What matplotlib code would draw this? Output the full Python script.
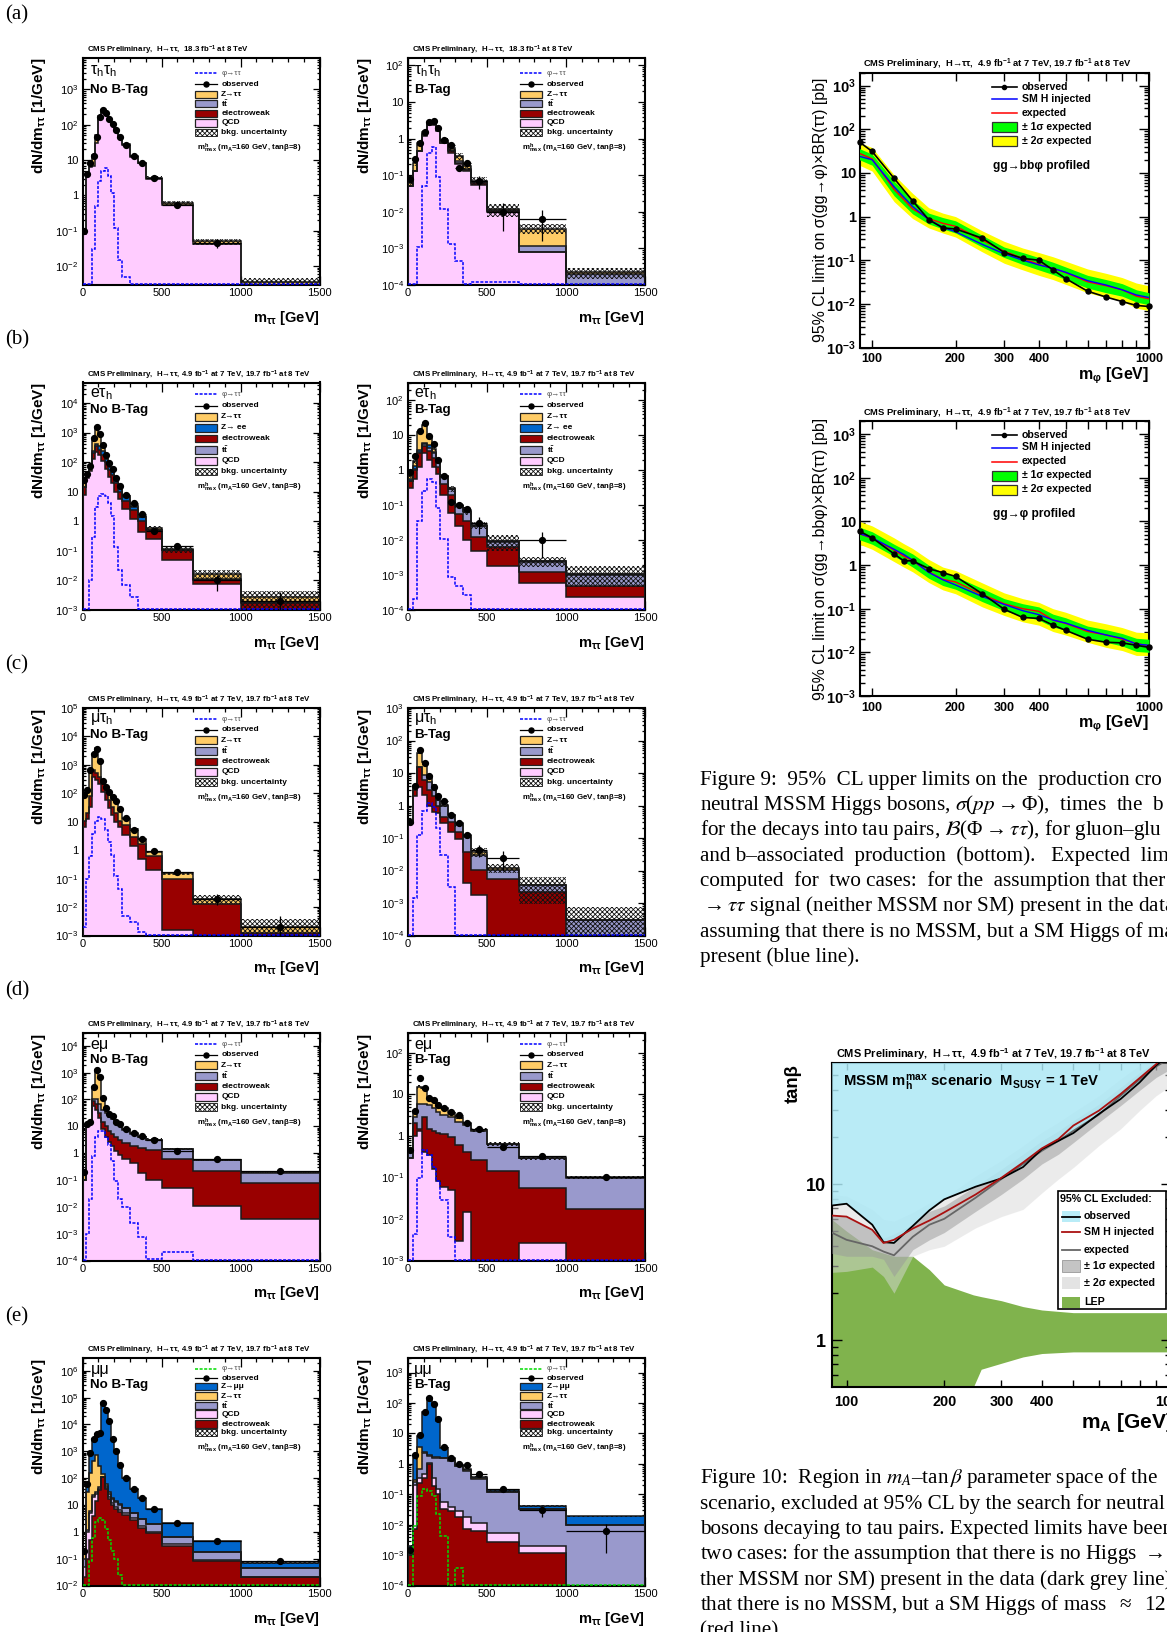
import numpy as np
import matplotlib
matplotlib.use("Agg")
import matplotlib.pyplot as plt
from matplotlib.lines import Line2D
from matplotlib.patches import Rectangle
from matplotlib.ticker import LogLocator, NullFormatter, FixedLocator

plt.rcParams["font.family"] = ["Liberation Sans", "DejaVu Sans"]
plt.rcParams["mathtext.fontset"] = "custom"
plt.rcParams["mathtext.rm"] = "Liberation Sans"
plt.rcParams["mathtext.it"] = "Liberation Sans:italic"
plt.rcParams["mathtext.bf"] = "Liberation Sans:bold"
plt.rcParams["mathtext.default"] = "regular"
plt.rcParams["hatch.linewidth"] = 0.6

W, H = 1167, 1632

# ======================
# Bin edges
# ======================
EDGES_NB = [0, 20, 40, 60, 80, 100, 120, 140, 160, 180, 200, 225, 250, 300, 350, 400, 500, 700, 1000, 1500]
EDGES_BT = [0, 30, 60, 90, 120, 150, 180, 200, 250, 300, 350, 400, 500, 700, 1000, 1500]

# ======================
# Stack tops (cumulative)
# ======================
# (a) tau_h tau_h
A1_QCD = [0.08, 4, 6.5, 7, 30, 150, 240, 205, 150, 105, 70, 44, 26, 12, 8, 3, 0.55, 0.042, 0.0001]
A1_Z = [0.1, 4, 8, 14, 50, 175, 260, 220, 160, 110, 75, 46, 28, 13, 8.5, 3.2, 0.62, 0.05, 0.0036]
A1_SIG = [0, 0, 0, 0.03, 0.5, 2.5, 5, 5.8, 3.5, 1.2, 0.12, 0.015, 0.005, 0, 0, 0, 0, 0, 0]
A1_OBS = [0.1, 4, 8, 13, 45, 170, 255, 220, 150, 105, 70, 45, 27, 13, 8.5, 3.2, 0.55, 0.045, np.nan]
A1_UNC = [.1, .1, .1, .1, .1, .1, .05, .05, .05, .05, .05, .05, .05, .05, .1, .1, .15, .2, .3]
A1_ERR = [.1, .1, .3, 0]

A2_QCD = [0.05, 0.13, 0.45, 1.2, 2.4, 2.3, 1.6, 0.75, 0.4, 0.2, 0.13, 0.055, 0.01, 8e-4, 1e-5]
A2_EW = [0.05, 0.13, 0.46, 1.25, 2.5, 2.5, 1.7, 0.78, 0.45, 0.22, 0.14, 0.06, 0.0105, 8.2e-4, 1e-5]
A2_TT = [0.05, 0.13, 0.47, 1.3, 2.6, 2.6, 1.8, 0.82, 0.48, 0.25, 0.15, 0.065, 0.011, 0.0012, 2e-4]
A2_Z = [0.06, 0.22, 0.75, 1.5, 2.7, 2.9, 1.9, 0.9, 0.55, 0.33, 0.18, 0.07, 0.012, 0.0035, 2.2e-4]
A2_SIG = [0, 0, 0.0011, 0.05, 0.4, 0.6, 0.09, 0.012, 0.0013, 4.5e-4, 1e-4, 1.2e-4, 1.2e-4, 1e-4, 1e-4]
A2_OBS = [0.08, 0.28, 0.75, 1.5, 2.8, 3, 2.0, 0.9, 0.65, 0.16, 0.22, 0.07, 0.01, 0.0065, np.nan]
A2_UNC = [.2, .2, .15, .15, .15, .15, .15, .15, .2, .2, .25, .25, .4, .3, .35]
A2_ERR = [.4, .7, .75, 0]

# (b) e tau_h
B1_QCD = [8, 30, 50, 130, 220, 180, 110, 60, 32, 20, 10, 5.5, 2.5, 1.2, 0.45, 0.25, 0.05, 0.0074, 1e-4]
B1_EW = [14, 35, 65, 200, 350, 260, 170, 100, 55, 38, 20, 10, 4.8, 2.4, 1.0, 0.5, 0.105, 0.0103, 0.0017]
B1_ZEE = [14, 35, 68, 240, 420, 360, 230, 130, 70, 45, 24, 13, 6.4, 3, 1.4, 0.52, 0.108, 0.0115, 0.0018]
B1_Z = [24, 38, 75, 550, 1550, 1000, 350, 160, 85, 52, 26, 15, 7, 3.6, 1.5, 0.58, 0.115, 0.016, 0.0028]
B1_SIG = [0, 0, 0.01, 0.3, 3, 7, 8.5, 7, 4, 1.5, 0.14, 0.023, 0.007, 0.0027, 0, 0, 0, 0, 0]
B1_OBS = [24, 40, 75, 650, 1550, 900, 370, 170, 90, 58, 28, 15, 7.5, 4, 1.7, 0.46, 0.15, 0.01, 0.002]
B1_UNC = [.1, .1, .1, .1, .1, .1, .1, .1, .1, .1, .12, .12, .15, .15, .15, .2, .28, .38, .6]
B1_ERR = [.2, .1, .55, 1.1]

B2_QCD = [0.3, 0.55, 1.2, 3, 1.9, 1.2, 0.75, 0.2, 0.06, 0.025, 0.01, 0.005, 0.0018, 6e-4, 2.4e-4]
B2_EW = [0.5, 1.0, 3, 5, 3.5, 2.2, 1.2, 0.4, 0.2, 0.056, 0.034, 0.0125, 0.0065, 0.00125, 5e-4]
B2_TT = [0.5, 1.1, 3.2, 5.5, 4.3, 3, 1.6, 0.65, 0.28, 0.095, 0.065, 0.025, 0.009, 0.0024, 0.001]
B2_ZEE = [0.55, 1.3, 3.8, 6, 5.3, 3.4, 1.7, 0.66, 0.29, 0.097, 0.066, 0.0255, 0.0092, 0.00245, 0.00105]
B2_Z = [0.7, 1.8, 12, 20, 9, 4, 1.9, 0.68, 0.3, 0.1, 0.07, 0.027, 0.0095, 0.0025, 0.0011]
B2_SIG = [0, 2e-4, 0.036, 0.25, 0.55, 0.45, 0.08, 0.0105, 0.0009, 5e-4, 2.7e-4, 1.1e-4, 1.1e-4, 1e-4, 1e-4]
B2_OBS = [0.9, 2.5, 13, 22, 9.5, 5.5, 2, 0.7, 0.12, 0.1, 0.075, 0.03, np.nan, 0.01, np.nan]
B2_UNC = [.15, .15, .1, .1, .1, .1, .15, .15, .2, .2, .25, .25, .5, .3, .6]
B2_ERR = [.5, 0, .7, 0]

# (c) mu tau_h
C1_QCD = [6.7, 13, 33, 380, 300, 220, 110, 57, 30, 17, 10, 6.7, 3.4, 1.4, 0.48, 0.2, 0.0016, 2e-4, 2e-4]
C1_EW = [11, 20, 80, 660, 500, 380, 230, 110, 57, 33, 20, 11, 7.6, 2.9, 1.6, 0.63, 0.095, 0.0125, 0.0012]
C1_Z = [85, 130, 700, 2400, 3800, 1500, 280, 170, 110, 75, 55, 28, 13, 5.5, 2.4, 0.87, 0.158, 0.02, 0.002]
C1_SIG = [0.002, 0.1, 0.6, 3.8, 11, 15, 12, 5, 2, 0.66, 0.12, 0.044, 0.0048, 0.003, 0.0013, 0, 0, 0, 0]
C1_OBS = [85, 130, 660, 2400, 3700, 1400, 280, 170, 110, 75, 55, 28, 14, 5, 2.4, 0.95, 0.17, 0.02, 0.002]
C1_UNC = [.1, .1, .1, .1, .1, .1, .1, .1, .1, .1, .1, .1, .1, .12, .12, .12, .12, .35, .85]
C1_ERR = [.1, .1, .4, 1.5]

C2_QCD = [0.28, 1.9, 3.8, 2.1, 1, 0.63, 0.57, 0.28, 0.15, 0.09, 0.0042, 0.0018, 5e-5, 1e-5, 1e-5]
C2_EW = [0.28, 3, 15, 6, 3, 2, 1, 0.45, 0.32, 0.15, 0.036, 0.0107, 0.0056, 0.0022, 1e-5]
C2_TT = [0.3, 3.8, 15, 8.6, 5.4, 3.8, 1.5, 1.0, 0.5, 0.25, 0.11, 0.031, 0.0102, 0.0035, 2.9e-4]
C2_Z = [0.32, 4, 42, 22, 8, 4.2, 1.6, 1.05, 0.52, 0.28, 0.12, 0.038, 0.012, 0.0036, 3e-4]
C2_SIG = [0, 0.0014, 0.12, 0.7, 1.2, 0.9, 0.2, 0.03, 0.003, 0, 0, 0, 0, 0, 0]
C2_OBS = [0.32, 4, 50, 20, 8, 3.8, 2, 1.4, 0.5, 0.28, 0.12, 0.043, 0.025, np.nan, np.nan]
C2_UNC = [.15, .15, .1, .1, .1, .1, .15, .15, .15, .2, .2, .3, .3, .75, 1.5]
C2_ERR = [.4, .6, 0, 0]

# (d) e mu
D1_QCD = [0.1, 10, 13, 55, 42, 20, 8, 4, 2.6, 1.8, 1.2, 0.85, 0.6, 0.42, 0.19, 0.1, 0.05, 0.011, 0.0034]
D1_EW = [0.1, 10, 13, 85, 65, 32, 15, 10, 6.5, 5, 4, 3, 2.4, 1.8, 1.5, 1.3, 0.6, 0.22, 0.08]
D1_TT = [0.1, 10, 15, 100, 100, 65, 42, 31, 22, 18, 13, 11, 7.5, 5.3, 4, 3.2, 1.4, 0.56, 0.18]
D1_Z = [0.2, 12, 15, 280, 1300, 650, 115, 50, 30, 25, 15, 12, 8, 5.6, 4, 3.2, 1.4, 0.56, 0.2]
D1_SIG = [1e-4, 0.001, 0.02, 0.8, 4, 6.5, 6.5, 4, 2, 0.5, 0.09, 0.02, 0.01, 0.0024, 7.5e-4, 1.1e-4, 2.1e-4, 1e-4, 1e-4]
D1_OBS = [0.2, 12, 15, 280, 1300, 700, 115, 50, 30, 25, 15, 12, 8, 5.5, 4.2, 3.2, 1.2, 0.6, 0.22]
D1_UNC = [.1, .1, .1, .1, .1, .1, .1, .1, .1, .1, .1, .1, .1, .1, .1, .1, .1, .1, .1]
D1_ERR = [.1, .1, .1, .1]

D2_QCD = [0.3, 1, 1.3, 0.4, 0.35, 0.16, 0.08, 0.06, 0.05, 0.003, 0.015, 1e-5, 1e-5, 0.0027, 1e-5]
D2_EW = [0.3, 2.1, 1.5, 2.9, 1.5, 1.3, 1.2, 1.1, 0.95, 0.6, 0.4, 0.27, 0.14, 0.055, 0.017]
D2_TT = [0.4, 2.9, 6, 6, 5.6, 4.7, 3.8, 3.2, 2.8, 2.2, 1.8, 1.3, 0.63, 0.29, 0.095]
D2_Z = [0.45, 4, 15, 14, 8, 7.3, 6, 4.7, 3.5, 2.9, 2, 1.4, 0.65, 0.3, 0.1]
D2_SIG = [0, 0.0044, 0.095, 0.45, 0.35, 0.18, 0.08, 0.028, 0.0036, 0, 0, 0, 0, 0, 0]
D2_OBS = [0.45, 4, 25, 14, 8, 7.5, 5.5, 4.7, 3.7, 3.1, 2, 1.5, 0.55, 0.33, 0.1]
D2_UNC = [.1, .1, .1, .1, .1, .1, .1, .1, .1, .1, .1, .1, .1, .1, .1]
D2_ERR = [.1, .1, .1, .1]

# (e) mu mu
E1_EW = [0.02, 0.1, 0.5, 4, 14, 35, 110, 40, 17, 10, 7, 5.5, 4.2, 2.8, 1.4, 0.9, 0.3, 0.08, 0.02]
E1_QCD = [0.05, 1, 5, 20, 25, 40, 110, 42, 20, 12, 8.5, 6.5, 5, 3.3, 1.7, 1, 0.34, 0.09, 0.021]
E1_TT = [0.1, 1.2, 6, 24, 30, 45, 115, 50, 26, 17, 13, 10, 7.5, 5, 3, 1.9, 0.65, 0.17, 0.045]
E1_Z = [0.2, 30, 160, 430, 700, 280, 140, 60, 30, 18, 14, 11, 8, 5.2, 3.1, 1.95, 0.66, 0.175, 0.046]
E1_ZMM = [0.2, 63, 900, 3000, 4500, 5000, 65000, 35000, 13000, 3000, 1000, 300, 100, 38, 18, 7, 2.1, 0.45, 0.07]
E1_SIG = [0, 0.01, 0.08, 0.6, 2.3, 3.3, 2.7, 1.3, 0.5, 0.2, 0.1, 0.025, 0, 0, 0, 0, 0, 0, 0]
E1_OBS = [0.2, 63, 900, 3000, 4500, 5000, 65000, 35000, 13000, 3000, 1000, 300, 100, 38, 18, 7, 2.1, 0.45, 0.08]
E1_UNC = [.1, .1, .05, .05, .05, .05, .05, .05, .05, .05, .05, .05, .05, .05, .05, .05, .05, .05, .08]
E1_ERR = [.05, .1, .2, .2]

E2_EW = [0.001, 0.007, 0.24, 0.35, 1, 0.19, 0.1, 0.032, 0.028, 0.018, 0.007, 0.0062, 0.0027, 0.0012, 1e-5]
E2_QCD = [0.001, 0.2, 0.35, 0.45, 1.1, 0.35, 0.145, 0.056, 0.037, 0.028, 0.018, 0.0117, 0.0054, 0.002, 1e-5]
E2_TT = [0.0012, 0.25, 0.7, 2.2, 1.8, 1.6, 1.6, 1.5, 1.25, 0.85, 0.6, 0.32, 0.115, 0.032, 0.0095]
E2_Z = [0.0013, 0.3, 3.5, 2.4, 2, 1.7, 1.65, 1.55, 1.3, 0.87, 0.62, 0.33, 0.117, 0.033, 0.0097]
E2_ZMM = [0.002, 1.5, 8, 50, 150, 90, 25, 3.3, 1.5, 0.9, 0.65, 0.38, 0.135, 0.041, 0.019]
E2_SIG = [0, 0.009, 0.09, 0.145, 0.13, 0.09, 0.022, 0.0042, 0, 3.8e-4, 0, 0, 0, 0, 0]
E2_OBS = [0.0015, 2, 9, 50, 150, 90, 30, 3.5, 1.6, 1, 0.9, 0.45, 0.15, 0.03, 0.006]
E2_UNC = [.1, .1, .05, .05, .05, .05, .05, .05, .05, .05, .05, .05, .1, .1, .05]
E2_ERR = [.1, .1, .4, .8]

# ======================
# Limits (Figure 9)
# ======================
M_TOP = [90, 100, 120, 140, 160, 180, 200, 250, 300, 350, 400, 450, 500, 600, 700, 800, 900, 1000]
TOP_OBS = [51, 31, 7.5, 2.3, .85, .55, .52, .32, .15, .11, .10, .06, .038, .0195, .0143, .0113, .0092, .0087]
TOP_EXP = [28, 21, 4.2, 1.5, .9, .7, .6, .29, .16, .11, .08, .065, .052, .032, .026, .021, .015, .013]
TOP_SM = [24, 20, 4.8, 1.7, .85, .57, .45, .23, .14, .1, .078, .065, .053, .034, .027, .021, .016, .014]
TOP_P1 = [36, 27, 6.5, 2.4, 1.2, .95, .8, .37, .2, .15, .115, .09, .07, .045, .036, .029, .021, .018]
TOP_M1 = [20, 15, 3, 1.15, .68, .52, .42, .2, .115, .08, .06, .047, .036, .023, .018, .015, .011, .0095]
TOP_P2 = [50, 38, 9, 3.4, 1.6, 1.2, 1.0, .47, .27, .19, .15, .12, .095, .063, .05, .04, .03, .026]
TOP_M2 = [15, 11, 2.2, .9, .55, .42, .34, .155, .085, .06, .045, .036, .028, .018, .014, .0115, .008, .007]

M_BOT = [90, 100, 120, 130, 140, 160, 180, 200, 250, 300, 350, 400, 450, 500, 600, 700, 800, 900, 1000]
BOT_OBS = [6, 4.2, 1.8, 1.25, 1.25, .83, .67, .55, .22, .097, .063, .06, .042, .032, .02, .017, .0165, .0145, .013]
BOT_EXP = [5.2, 4.1, 2.2, 1.6, 1.25, .7, .47, .41, .21, .13, .1, .087, .055, .046, .03, .025, .02, .016, .014]
BOT_SM = [5.3, 4.2, 2.3, 1.75, 1.3, .68, .46, .35, .19, .125, .09, .073, .055, .047, .032, .025, .021, .0155, .0145]
BOT_P1 = [7.4, 5.8, 3.0, 2.3, 1.8, 1, .67, .55, .29, .17, .13, .11, .075, .062, .04, .033, .027, .021, .02]
BOT_M1 = [3.8, 3.0, 1.6, 1.2, .9, .5, .34, .28, .145, .09, .068, .055, .038, .032, .021, .017, .014, .0105, .01]
BOT_P2 = [10, 7.9, 4.2, 3.1, 2.4, 1.35, .9, .75, .39, .23, .17, .14, .1, .083, .055, .045, .037, .029, .028]
BOT_M2 = [3, 2.3, 1.2, .9, .7, .4, .27, .22, .11, .07, .05, .042, .03, .025, .017, .013, .011, .0085, .0085]

# ======================
# tan(beta) exclusion (Figure 10)
# ======================
MA = [90, 100, 120, 130, 140, 160, 180, 200, 250, 300, 350, 400, 450, 500, 600, 700, 800, 900, 1000]
TB_OBS = [7.3, 7.5, 5.5, 4.25, 4.2, 5.4, 6.8, 8, 9.65, 10.9, 12.9, 16.8, 19, 21.3, 28.3, 35.3, 45, 58, 69]
TB_SM = [6.3, 6.2, 5.1, 4.2, 4.4, 5.2, 5.85, 6.6, 8.6, 11, 13.8, 17, 19.5, 23.8, 29.7, 38, 48, 59, 75]
TB_EXP = [4.9, 4.4, 4, 3.7, 3.5, 4.6, 5.5, 6, 8.2, 10.8, 13.5, 16.4, 19, 22, 28, 37, 47, 57, 65]
TB_P1 = [6.4, 6.25, 5.1, 4.5, 4.8, 5.5, 6.7, 7.25, 9.75, 12.5, 15.6, 19, 22, 25.6, 32.7, 42, 52, 62, 74]
TB_M1 = [3.6, 3.45, 3.45, 3.3, 2.56, 3.8, 4.4, 4.9, 6.7, 8.6, 10.8, 13.5, 15.6, 18.5, 25, 32, 40, 48.5, 55]
TB_P2 = [8.6, 8.4, 6.9, 5.95, 5.8, 6.6, 7.6, 8.2, 11.3, 14.2, 17.7, 21.6, 25, 29, 37, 47.5, 58, 71, 82]
TB_M2 = [2.72, 2.76, 2.94, 2.56, 2.0, 3.45, 3.8, 4, 5.25, 6.2, 6.9, 8.8, 10.8, 12.8, 17.7, 22.7, 29.7, 37, 43]
LEP_X = [90, 100, 120, 140, 160, 180, 200, 246, 260, 300, 350, 400, 500, 600, 1000]
LEP_TOP = [5.95, 5, 3.8, 3.45, 3.45, 2.83, 2.26, 1.95, 1.9, 1.79, 1.64, 1.56, 1.5, 1.5, 1.5]
LEP_BOT = [.5, .5, .5, .5, .5, .5, .5, .5, .65, .71, .78, .82, .84, .84, .84]

# ======================
# Colours
# ======================
C_Z = "#FFCC66"
C_TT = "#9999CC"
C_EW = "#990000"
C_QCD = "#FFCCFF"
C_ZLL = "#0066CC"

TITLE_8 = "CMS Preliminary,  H→ττ,  18.3 fb$^{-1}$ at 8 TeV"
TITLE_78 = "CMS Preliminary,  H→ττ, 4.9 fb$^{-1}$ at 7 TeV, 19.7 fb$^{-1}$ at 8 TeV"
TITLE_LIM = "CMS Preliminary,  H→ττ,  4.9 fb$^{-1}$ at 7 TeV, 19.7 fb$^{-1}$ at 8 TeV"

fig = plt.figure(figsize=(W / 100, H / 100), dpi=100)


def ftext(x, y, s, **kw):
    kw.setdefault("va", "center")
    return fig.text(x / W, 1 - y / H, s, **kw)


def add_axes(l, t, r, b):
    return fig.add_axes([l / W, 1 - b / H, (r - l) / W, (b - t) / H])


def frect(x, y, w, h, **kw):
    r = Rectangle((x / W, 1 - (y + h / 2) / H), w / W, h / H, transform=fig.transFigure, **kw)
    fig.add_artist(r)


def fline(x0, x1, y, **kw):
    fig.add_artist(Line2D([x0 / W, x1 / W], [1 - y / H] * 2, transform=fig.transFigure, **kw))


def log_ticks(ax, ymin, ymax, size, weight="normal", length=5):
    lo, hi = int(np.ceil(np.log10(ymin) - 1e-9)), int(np.floor(np.log10(ymax) + 1e-9))
    ex = list(range(lo, hi + 1))
    labels = [("1" if e == 0 else "10" if e == 1 else "$10^{%d}$" % e) for e in ex]
    ax.set_yticks([10.0 ** e for e in ex], labels, fontsize=size, fontweight=weight)
    ax.yaxis.set_minor_locator(LogLocator(base=10, subs=range(2, 10), numticks=30))
    ax.yaxis.set_minor_formatter(NullFormatter())
    ax.tick_params(axis="y", which="major", length=length)
    ax.tick_params(axis="y", which="minor", length=length / 2)


def draw_panel(left, top, ymin, ymax, edges, stack, sig, obs, unc, err, chan, tag, title, legend,
               sig_color="#0000FF", tag_dx=8):
    right, bottom = left + 237, top + 227.5
    ax = add_axes(left, top, right, bottom)
    ax.set_yscale("log")
    ax.set_xlim(0, 1500)
    ax.set_ylim(ymin, ymax)
    edges = np.array(edges, dtype=float)
    tops = np.array(stack[-1][0], dtype=float)
    for vals, col in reversed(stack):
        v = np.maximum(vals, ymin * 0.5)
        ax.stairs(v, edges, baseline=ymin * 0.5, fill=True, color=col, zorder=2)
        ax.stairs(v, edges, baseline=ymin * 0.5, color="#1a1a1a", lw=1.1, zorder=3)
    unc = np.array(unc)
    lo = np.maximum(tops * (1 - unc), ymin * 0.5)
    hi = tops * (1 + unc)
    ax.fill_between(edges, np.r_[lo, lo[-1]], np.r_[hi, hi[-1]], step="post", facecolor="none",
                    edgecolor="#111111", hatch="xxxxxxx", linewidth=0, zorder=4)
    ax.stairs(np.maximum(sig, ymin * 1.04), edges, baseline=None, color=sig_color, lw=1.1,
              linestyle=(0, (2, 1)), zorder=5)
    centers = 0.5 * (edges[1:] + edges[:-1])
    half = 0.5 * (edges[1:] - edges[:-1])
    obs = np.array(obs, dtype=float)
    rel = np.zeros(len(obs))
    rel[-4:] = err
    ax.errorbar(centers, obs, xerr=half, yerr=[obs * np.minimum(rel, 0.9), obs * rel], fmt="o", color="k",
                ms=4.2, lw=0.9, capsize=0, zorder=6, clip_on=True)
    ax.set_xticks([0, 500, 1000, 1500], ["0", "500", "1000", "1500"], fontsize=8)
    ax.xaxis.set_minor_locator(FixedLocator(np.arange(0, 1501, 100)))
    log_ticks(ax, ymin, ymax, 8)
    ax.tick_params(which="both", direction="in", top=True, right=True, width=0.9, pad=3)
    ax.tick_params(axis="x", which="major", length=6.5, pad=2.5)
    ax.tick_params(axis="x", which="minor", length=3.2)
    for s in ax.spines.values():
        s.set_linewidth(1.5)
    # labels
    ftext(left + 4.5, top - 7.5, title, fontsize=5.7, fontweight="bold")
    ftext(right, bottom + 33, "m$_{ττ}$ [GeV]", fontsize=10.5, fontweight="bold", ha="right")
    ftext(left - 43, top + 0.5, "dN/dm$_{ττ}$ [1/GeV]", fontsize=11, fontweight="bold", rotation=90,
          ha="center", va="top")
    # channel and tag text
    rows = legend["rows"]
    ftext(left + tag_dx, top + 227.5 * legend["chan_y"], chan, fontsize=11.5)
    ftext(left + tag_dx, top + 227.5 * legend["tag_y"], tag, fontsize=9.6, fontweight="bold")
    x0, x1, xt = left + 237 * 0.473, left + 237 * 0.566, left + 237 * 0.585
    for key, yf, label in rows:
        y = top + 227.5 * yf
        if key == "sig":
            fline(x0, x1, y, color=sig_color, lw=1.1, linestyle=(0, (2, 1)))
            ftext(xt, y, label, fontsize=5.8, color="#555555")
        elif key == "obs":
            fline(x0, x1, y, color="k", lw=0.9)
            fig.add_artist(Line2D([(x0 + x1) / 2 / W], [1 - y / H], marker="o", color="k", ms=3.6,
                                  transform=fig.transFigure))
            ftext(xt, y, label, fontsize=6, fontweight="bold")
        elif key == "unc":
            frect(x0, y, x1 - x0, 7.5, facecolor="white", edgecolor="#111111", hatch="xxxxxxx", lw=0.6)
            ftext(xt, y, label, fontsize=6, fontweight="bold")
        else:
            frect(x0, y, x1 - x0, 7.5, facecolor=key, edgecolor="#222222", lw=0.9)
            ftext(xt, y, label, fontsize=6, fontweight="bold")
    ftext(left + 237 * 0.483, top + 227.5 * legend["mh_y"],
          "m$_{max}^{h}$ (m$_{A}$=160 GeV, tanβ=8)", fontsize=5.7, fontweight="bold")
    return ax


LEG_A = {"chan_y": 0.06, "tag_y": 0.143, "mh_y": 0.40, "rows": [
    ("sig", .070, "φ→ττ"), ("obs", .117, "observed"), (C_Z, .162, "Z→ττ"), (C_TT, .203, "t$\\bar{t}$"),
    (C_EW, .246, "electroweak"), (C_QCD, .287, "QCD"), ("unc", .329, "bkg. uncertainty")]}
LEG_B = {"chan_y": 0.05, "tag_y": 0.12, "mh_y": 0.463, "rows": [
    ("sig", .051, "φ→ττ"), ("obs", .102, "observed"), (C_Z, .151, "Z→ττ"), (C_ZLL, .199, "Z→ ee"),
    (C_EW, .247, "electroweak"), (C_TT, .296, "t$\\bar{t}$"), (C_QCD, .344, "QCD"),
    ("unc", .391, "bkg. uncertainty")]}
LEG_C = {"chan_y": 0.05, "tag_y": 0.12, "mh_y": 0.397, "rows": [
    ("sig", .049, "φ→ττ"), ("obs", .096, "observed"), (C_Z, .141, "Z→ττ"), (C_TT, .188, "t$\\bar{t}$"),
    (C_EW, .235, "electroweak"), (C_QCD, .281, "QCD"), ("unc", .326, "bkg. uncertainty")]}
LEG_E = {"chan_y": 0.05, "tag_y": 0.12, "mh_y": 0.397, "rows": [
    ("sig", .047, "φ→ττ"), ("obs", .088, "observed"), (C_ZLL, .126, "Z→μμ"), (C_Z, .168, "Z→ττ"),
    (C_TT, .209, "t$\\bar{t}$"), (C_QCD, .247, "QCD"), (C_EW, .291, "electroweak"),
    ("unc", .328, "bkg. uncertainty")]}

XL, XR = 82.5, 408

draw_panel(XL, 57.5, 2.9e-3, 8e3, EDGES_NB, [(A1_QCD, C_QCD), (A1_Z, C_Z)], A1_SIG, A1_OBS, A1_UNC, A1_ERR,
           "τ$_{h}$τ$_{h}$", "No B-Tag", TITLE_8, LEG_A)
draw_panel(XR, 57.5, 1e-4, 165, EDGES_BT, [(A2_QCD, C_QCD), (A2_EW, C_EW), (A2_TT, C_TT), (A2_Z, C_Z)], A2_SIG,
           A2_OBS, A2_UNC, A2_ERR, "τ$_{h}$τ$_{h}$", "B-Tag", TITLE_8, LEG_A, tag_dx=6)
draw_panel(XL, 382.5, 1e-3, 4.9e4, EDGES_NB, [(B1_QCD, C_QCD), (B1_EW, C_EW), (B1_ZEE, C_ZLL), (B1_Z, C_Z)],
           B1_SIG, B1_OBS, B1_UNC, B1_ERR, "eτ$_{h}$", "No B-Tag", TITLE_78, LEG_B)
draw_panel(XR, 382.5, 1e-4, 320, EDGES_BT, [(B2_QCD, C_QCD), (B2_EW, C_EW), (B2_TT, C_TT), (B2_ZEE, C_ZLL),
                                            (B2_Z, C_Z)],
           B2_SIG, B2_OBS, B2_UNC, B2_ERR, "eτ$_{h}$", "B-Tag", TITLE_78, LEG_B, tag_dx=6)
draw_panel(XL, 708, 1e-3, 1e5, EDGES_NB, [(C1_QCD, C_QCD), (C1_EW, C_EW), (C1_Z, C_Z)], C1_SIG, C1_OBS, C1_UNC,
           C1_ERR, "μτ$_{h}$", "No B-Tag", TITLE_78, LEG_C)
draw_panel(XR, 708, 1e-4, 1e3, EDGES_BT, [(C2_QCD, C_QCD), (C2_EW, C_EW), (C2_TT, C_TT), (C2_Z, C_Z)], C2_SIG,
           C2_OBS, C2_UNC, C2_ERR, "μτ$_{h}$", "B-Tag", TITLE_78, LEG_C, tag_dx=6)
draw_panel(XL, 1033, 1e-4, 3e4, EDGES_NB, [(D1_QCD, C_QCD), (D1_EW, C_EW), (D1_TT, C_TT), (D1_Z, C_Z)], D1_SIG,
           D1_OBS, D1_UNC, D1_ERR, "eμ", "No B-Tag", TITLE_78, LEG_C)
draw_panel(XR, 1033, 1e-3, 300, EDGES_BT, [(D2_QCD, C_QCD), (D2_EW, C_EW), (D2_TT, C_TT), (D2_Z, C_Z)], D2_SIG,
           D2_OBS, D2_UNC, D2_ERR, "eμ", "B-Tag", TITLE_78, LEG_C, tag_dx=6)
draw_panel(XL, 1358, 1e-2, 3e6, EDGES_NB, [(E1_EW, C_EW), (E1_QCD, C_QCD), (E1_TT, C_TT), (E1_Z, C_Z),
                                           (E1_ZMM, C_ZLL)],
           E1_SIG, E1_OBS, E1_UNC, E1_ERR, "μμ", "No B-Tag", TITLE_78, LEG_E, sig_color="#00DD00")
draw_panel(XR, 1358, 1e-4, 3e3, EDGES_BT, [(E2_EW, C_EW), (E2_QCD, C_QCD), (E2_TT, C_TT), (E2_Z, C_Z),
                                           (E2_ZMM, C_ZLL)],
           E2_SIG, E2_OBS, E2_UNC, E2_ERR, "μμ", "B-Tag", TITLE_78, LEG_E, sig_color="#00DD00", tag_dx=6)

for lab, y in zip(["(a)", "(b)", "(c)", "(d)", "(e)"], [14.5, 339.5, 664.5, 990.5, 1316.5]):
    ftext(5, y, lab, fontsize=15, family="Liberation Serif")


# ======================
# Figure 9 limit panels
# ======================
def draw_limit(top, m, obs, exp, sm, p1, m1, p2, m2, ylab, prof):
    left, right, bottom = 859.5, 1149, top + 275
    ax = add_axes(left, top, right, bottom)
    ax.set_xscale("log")
    ax.set_yscale("log")
    ax.set_xlim(90, 1000)
    ax.set_ylim(1e-3, 2e3)
    ax.fill_between(m, m2, p2, color="#FFFF00", lw=0, zorder=2)
    ax.fill_between(m, m1, p1, color="#00FF00", lw=0, zorder=3)
    ax.plot(m, exp, color="#FF0000", lw=1.0, zorder=4)
    ax.plot(m, sm, color="#0000FF", lw=1.0, zorder=5)
    ax.plot(m, obs, "-o", color="k", lw=1.2, ms=3.6, zorder=6, clip_on=False)
    ax.set_xticks([100, 200, 300, 400, 500, 600, 700, 800, 900, 1000],
                  ["100", "200", "300", "400", "", "", "", "", "", "1000"], fontsize=9, fontweight="bold")
    ax.xaxis.set_minor_formatter(NullFormatter())
    ax.xaxis.set_minor_locator(FixedLocator([]))
    log_ticks(ax, 1e-3, 2e3, 10.5, weight="bold", length=7)
    ax.tick_params(which="both", direction="in", top=True, right=True, width=1.0)
    ax.tick_params(axis="x", which="major", length=6, pad=4)
    ax.tick_params(axis="y", which="major", pad=2.5)
    for s in ax.spines.values():
        s.set_linewidth(1.5)
    ftext(left + 3.5, top - 8, TITLE_LIM, fontsize=6.75, fontweight="bold")
    ftext(right, bottom + 28, "m$_{φ}$ [GeV]", fontsize=11.5, fontweight="bold", ha="right")
    ftext(820, (top + bottom) / 2, ylab, fontsize=11.4, rotation=90, ha="center")
    x0, x1, xt = 991.5, 1016.5, 1021.5
    fline(x0, x1, top + 14, color="k", lw=1.2)
    fig.add_artist(Line2D([(x0 + x1) / 2 / W], [1 - (top + 14) / H], marker="o", color="k", ms=3,
                          transform=fig.transFigure))
    ftext(xt, top + 14, "observed", fontsize=7.6, fontweight="bold")
    fline(x0, x1, top + 26.5, color="#0000FF", lw=1.1)
    ftext(xt, top + 26.5, "SM H injected", fontsize=7.6, fontweight="bold")
    fline(x0, x1, top + 40.5, color="#FF0000", lw=1.1)
    ftext(xt, top + 40.5, "expected", fontsize=7.6, fontweight="bold")
    frect(x0, top + 54.5, x1 - x0, 10, facecolor="#00FF00", edgecolor="#333333", lw=0.9)
    ftext(xt, top + 54.5, "± 1σ expected", fontsize=7.6, fontweight="bold")
    frect(x0, top + 68.5, x1 - x0, 10, facecolor="#FFFF00", edgecolor="#333333", lw=0.9)
    ftext(xt, top + 68.5, "± 2σ expected", fontsize=7.6, fontweight="bold")
    ftext(993, top + 93, prof, fontsize=8.6, fontweight="bold")


draw_limit(72.5, M_TOP, TOP_OBS, TOP_EXP, TOP_SM, TOP_P1, TOP_M1, TOP_P2, TOP_M2,
           "95% CL limit on σ(gg→φ)×BR(ττ) [pb]", "gg→bbφ profiled")
draw_limit(421, M_BOT, BOT_OBS, BOT_EXP, BOT_SM, BOT_P1, BOT_M1, BOT_P2, BOT_M2,
           "95% CL limit on σ(gg→bbφ)×BR(ττ) [pb]", "gg→φ profiled")

# ======================
# Figure 10 exclusion panel
# ======================
ax = add_axes(831.7, 1063, 1171, 1387)
ax.set_xscale("log")
ax.set_yscale("log")
ax.set_xlim(90, 1000)
ax.set_ylim(0.5, 60)
ax.fill_between(LEP_X, LEP_BOT, LEP_TOP, color="#80B34D", lw=0, zorder=1)
ax.fill_between(MA, TB_M2, TB_P2, color=(0.85, 0.85, 0.85), alpha=0.5, lw=0, zorder=2)
ax.fill_between(MA, TB_M1, TB_P1, color=(0.6, 0.6, 0.6), alpha=0.5, lw=0, zorder=3)
ax.fill_between(MA, TB_OBS, 100, color=(0.68, 0.91, 0.96), alpha=0.85, lw=0, zorder=4)
ax.plot(MA, TB_EXP, color="#666666", lw=1.3, zorder=5)
ax.plot(MA, TB_OBS, color="k", lw=1.3, zorder=6)
ax.plot(MA, TB_SM, color="#AA1111", lw=1.3, zorder=7)
ax.set_xticks([100, 200, 300, 400, 500, 600, 700, 800, 900, 1000],
              ["100", "200", "300", "400", "", "", "", "", "", "1000"], fontsize=10.4, fontweight="bold")
ax.xaxis.set_minor_locator(FixedLocator([]))
ax.xaxis.set_minor_formatter(NullFormatter())
ax.set_yticks([1, 10], ["1", "10"], fontsize=13, fontweight="bold")
ax.yaxis.set_minor_locator(FixedLocator([.6, .7, .8, .9, 2, 3, 4, 5, 6, 7, 8, 9, 20, 30, 40, 50]))
ax.yaxis.set_minor_formatter(NullFormatter())
ax.tick_params(which="both", direction="in", top=True, right=True, width=1.0)
ax.tick_params(axis="y", which="major", length=7.5, pad=4)
ax.tick_params(axis="y", which="minor", length=4)
ax.tick_params(axis="x", which="major", length=5, pad=6)
for s in ax.spines.values():
    s.set_linewidth(1.5)
ftext(836, 1054, TITLE_LIM, fontsize=7.9, fontweight="bold")
ftext(1173, 1423, "m$_{A}$ [GeV]", fontsize=15, fontweight="bold", ha="right")
ftext(793, 1064, "tanβ", fontsize=13.3, fontweight="bold", rotation=90, ha="center", va="top")
ftext(843, 1083, "MSSM m$_{h}^{max}$ scenario  M$_{SUSY}$ = 1 TeV", fontsize=10.7, fontweight="bold")

frect(1057.5, 1250, 108, 118, facecolor="white", edgecolor="k", lw=1.2, zorder=5)
sx0, sx1, tx = 1061.5, 1080, 1084
ftext(1059.5, 1199, "95% CL Excluded:", fontsize=7.7, fontweight="bold", zorder=6)
frect(sx0, 1216, sx1 - sx0, 11, facecolor="#B9ECF7", lw=0, zorder=6)
fline(sx0, sx1, 1217, color="k", lw=1.3, zorder=7)
ftext(tx, 1216, "observed", fontsize=7.7, fontweight="bold", zorder=6)
fline(sx0, sx1, 1232, color="#AA1111", lw=1.3, zorder=7)
ftext(tx, 1232, "SM H injected", fontsize=7.7, fontweight="bold", zorder=6)
fline(sx0, sx1, 1250, color="#666666", lw=1.3, zorder=7)
ftext(tx, 1250, "expected", fontsize=7.7, fontweight="bold", zorder=6)
frect(sx0, 1266, sx1 - sx0, 12, facecolor="#C4C4C4", edgecolor="#999999", lw=0.6, zorder=6)
ftext(tx, 1266, "± 1σ expected", fontsize=7.7, fontweight="bold", zorder=6)
frect(sx0, 1283, sx1 - sx0, 12, facecolor="#E3E3E3", lw=0, zorder=6)
ftext(tx, 1283, "± 2σ expected", fontsize=7.7, fontweight="bold", zorder=6)
frect(sx0, 1302, sx1 - sx0, 11, facecolor="#80B34D", lw=0, zorder=6)
ftext(tx, 1302, "LEP", fontsize=7.7, fontweight="bold", zorder=6)

# ======================
# Captions
# ======================
CAP9 = ["Figure 9:  95%  CL upper limits on the  production cro",
        "neutral MSSM Higgs bosons, $\\mathit{\\sigma}(\\mathit{pp}\\rightarrow\\Phi)$,  times  the  b",
        "for the decays into tau pairs, $\\mathcal{B}(\\Phi\\rightarrow\\mathit{\\tau\\tau})$, for gluon–glu",
        "and b–associated  production  (bottom).   Expected  lim",
        "computed  for  two cases:  for the  assumption that ther",
        "$\\rightarrow\\mathit{\\tau\\tau}$ signal (neither MSSM nor SM) present in the data",
        "assuming that there is no MSSM, but a SM Higgs of ma",
        "present (blue line)."]
CAP9_Y = [785, 810, 835.3, 861, 886, 911, 936.7, 962]
CAP10 = ["Figure 10:  Region in $\\mathit{m_A}$–tan$\\,\\mathit{\\beta}$ parameter space of the",
         "scenario, excluded at 95% CL by the search for neutral",
         "bosons decaying to tau pairs. Expected limits have been",
         "two cases: for the assumption that there is no Higgs $\\rightarrow$",
         "ther MSSM nor SM) present in the data (dark grey line)",
         "that there is no MSSM, but a SM Higgs of mass  $\\approx$  125",
         "(red line)."]
CAP10_Y = [1483, 1509, 1534, 1559, 1585, 1610, 1635]

for line, y in zip(CAP9 + CAP10, CAP9_Y + CAP10_Y):
    ftext(700, y, line, fontsize=15.2, family="Liberation Serif", va="baseline", math_fontfamily="stix")

fig.savefig("out.png", dpi=100)
